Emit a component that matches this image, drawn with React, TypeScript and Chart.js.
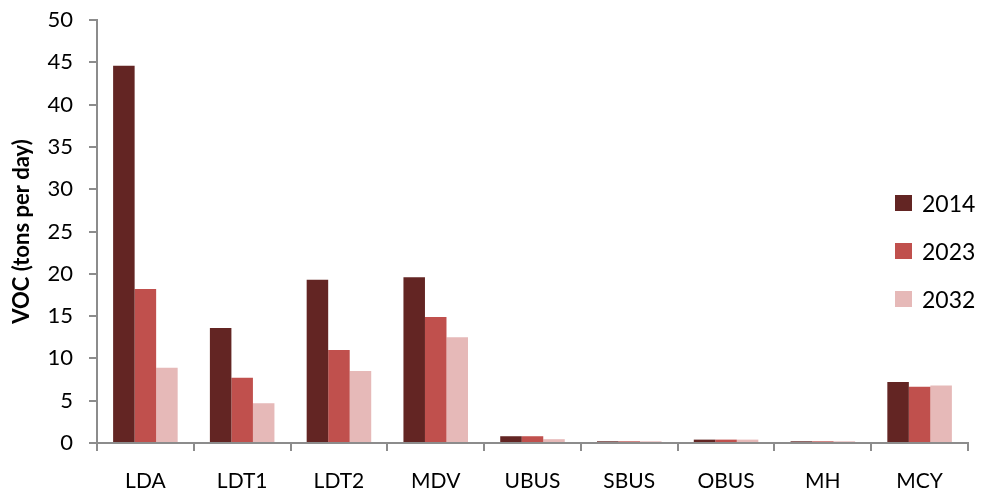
import React, { useEffect, useRef } from "react";
import { Chart, registerables } from "chart.js";

Chart.register(...registerables);

const categories = ["LDA", "LDT1", "LDT2", "MDV", "UBUS", "SBUS", "OBUS", "MH", "MCY"];
const series2014 = [44.6, 13.6, 19.3, 19.6, 0.8, 0.2, 0.4, 0.2, 7.2];
const series2023 = [18.2, 7.7, 11.0, 14.9, 0.8, 0.2, 0.4, 0.2, 6.65];
const series2032 = [8.9, 4.7, 8.5, 12.5, 0.45, 0.2, 0.4, 0.2, 6.8];
const seriesLabels = ["2014", "2023", "2032"];
const colors = ["#632523", "#C0504D", "#E6B9B8"];
const yTicks = [0, 5, 10, 15, 20, 25, 30, 35, 40, 45, 50];

const FONT = "Lato, 'Open Sans', sans-serif";
const AXIS = "#8c8c8c";

export default function App() {
  const ref = useRef<HTMLCanvasElement | null>(null);
  useEffect(() => {
    document.body.style.margin = "0";
    const ctx = ref.current!;
    const chart = new Chart(ctx, {
      type: "bar",
      data: {
        labels: categories,
        datasets: [series2014, series2023, series2032].map((d, i) => ({
          label: seriesLabels[i],
          data: d,
          backgroundColor: colors[i],
          borderWidth: 0,
          categoryPercentage: 0.667,
          barPercentage: 1,
        })),
      },
      options: {
        animation: false,
        responsive: false,
        maintainAspectRatio: false,
        layout: { padding: { top: 20, right: 14, left: 0, bottom: 0 } },
        plugins: { legend: { display: false }, tooltip: { enabled: false } },
        scales: {
          x: {
            offset: true,
            grid: {
              offset: true,
              drawOnChartArea: false,
              drawTicks: true,
              tickLength: 8,
              color: AXIS,
              lineWidth: 2,
            },
            border: { color: AXIS, width: 2 },
            ticks: { color: "#000", font: { family: FONT, size: 21 }, padding: 18 },
            afterFit: (s: any) => {
              s.height = 52;
              s.paddingLeft = 0;
              s.paddingRight = 0;
            },
          },
          y: {
            min: 0,
            max: 50,
            afterBuildTicks: (s: any) => {
              s.ticks = yTicks.map((v) => ({ value: v }));
            },
            grid: {
              drawOnChartArea: false,
              drawTicks: true,
              tickLength: 8,
              color: AXIS,
              lineWidth: 2,
            },
            border: { color: AXIS, width: 2 },
            ticks: { color: "#000", font: { family: FONT, size: 22 }, padding: 16 },
            title: {
              display: true,
              text: "VOC (tons per day)",
              color: "#000",
              font: { family: FONT, size: 22, weight: "bold" },
              padding: { top: 9, bottom: 0 },
            },
            afterFit: (s: any) => {
              s.width = 97;
              s.paddingTop = 0;
              s.paddingBottom = 0;
            },
          },
        },
      },
    });
    return () => chart.destroy();
  }, []);

  return (
    <div style={{ position: "relative", width: 982, height: 495, background: "#fff" }}>
      <canvas ref={ref} width={982} height={495} style={{ display: "block" }} />
      {seriesLabels.map((l, i) => (
        <div
          key={l}
          style={{
            position: "absolute",
            left: 895,
            top: 203 + i * 48 - 12,
            height: 24,
            display: "flex",
            alignItems: "center",
            fontFamily: FONT,
            fontSize: 23,
            color: "#000",
          }}
        >
          <span style={{ display: "inline-block", width: 17, height: 16, background: colors[i], marginRight: 10 }} />
          {l}
        </div>
      ))}
    </div>
  );
}
